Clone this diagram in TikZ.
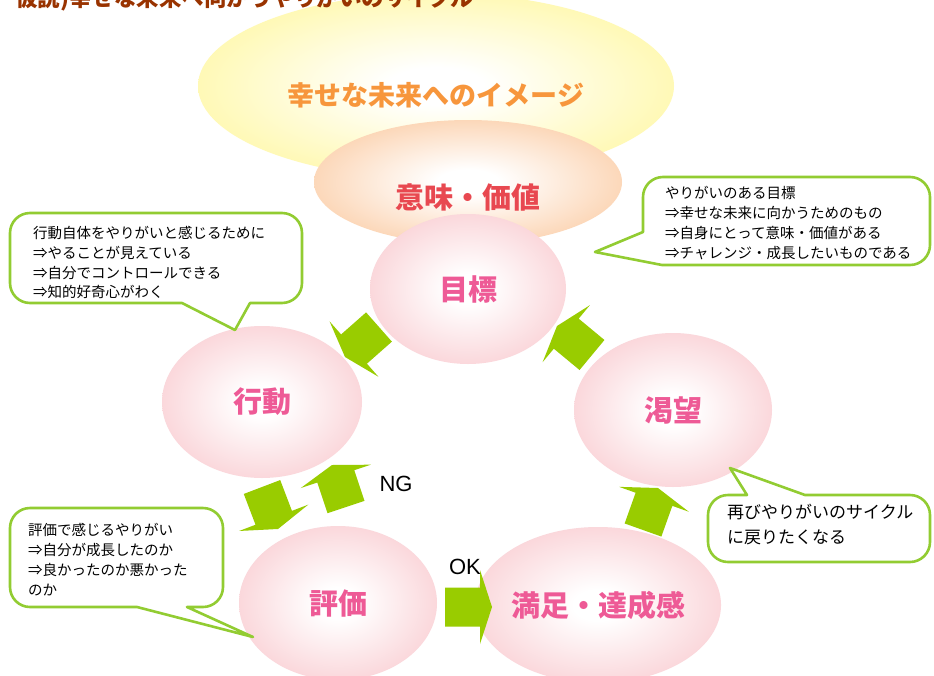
\documentclass[tikz,border=0pt]{standalone}
\usepackage{fontspec}
\setmainfont{Liberation Sans}
\newfontfamily\jp{Noto Sans CJK JP}
\usetikzlibrary{shapes.geometric,calc}
\definecolor{pinkedge}{RGB}{248,194,200}
\definecolor{yellowedge}{RGB}{255,245,135}
\definecolor{orangeedge}{RGB}{250,190,140}
\definecolor{arrowgreen}{RGB}{153,204,0}
\definecolor{calloutgreen}{RGB}{146,204,50}
\definecolor{pinktext}{RGB}{238,90,150}
\definecolor{redtext}{RGB}{232,72,80}
\definecolor{orangetext}{RGB}{247,150,60}
\definecolor{titlebrown}{RGB}{153,51,0}
\pgfdeclareradialshading{pinkball}{\pgfpoint{0bp}{0bp}}{color(0bp)=(white); color(5bp)=(white); color(36bp)=(pinkedge); color(50bp)=(pinkedge)}
\pgfdeclareradialshading{yellowball}{\pgfpoint{0bp}{0bp}}{color(0bp)=(white); color(5bp)=(white); color(38bp)=(yellowedge); color(50bp)=(yellowedge)}
\pgfdeclareradialshading{orangeball}{\pgfpoint{0bp}{0bp}}{color(0bp)=(white); color(5bp)=(white); color(38bp)=(orangeedge); color(50bp)=(orangeedge)}
\newcommand\blockarr[3]{% name, tail, tip
  \coordinate (#1h) at ($(#3)!12pt!(#2)$);
  \fill[arrowgreen] ($(#2)!19.5pt!90:(#3)$) -- ($(#1h)!19.5pt!-90:(#2)$) -- ($(#1h)!37pt!-90:(#2)$) -- (#3)
    -- ($(#1h)!37pt!90:(#2)$) -- ($(#1h)!19.5pt!90:(#2)$) -- ($(#2)!19.5pt!-90:(#3)$) -- cycle;
}
\tikzset{
  ball/.style={ellipse, inner sep=0pt, shade, shading=#1},
  bigtxt/.style={font=\jp\bfseries\fontsize{29}{34}\selectfont, text=pinktext},
  cotxt/.style={font=\jp\fontsize{14.5}{18}\selectfont, anchor=base west, inner sep=0pt},
  cotxtb/.style={font=\jp\fontsize{17}{20}\selectfont, anchor=base west, inner sep=0pt},
  callout/.style={draw=calloutgreen, line width=2.6pt, fill=white, line join=round},
  engtxt/.style={font=\fontsize{22}{26}\selectfont, text=black},
}
\begin{document}
\begin{tikzpicture}[x=1pt,y=-1pt]
\useasboundingbox (0,0) rectangle (934,675);
\clip (0,0) rectangle (934,675);
\fill[white] (0,0) rectangle (934,675);
% background ellipses
\node[ball=yellowball, minimum width=476pt, minimum height=186pt] (future) at (436,86) {};
\node[font=\jp\bfseries\fontsize{27}{32}\selectfont, text=orangetext] (futuret) at (436,95) {幸せな未来へのイメージ};
\node[ball=orangeball, minimum width=308pt, minimum height=124pt] (meaning) at (468,182) {};
\node[font=\jp\bfseries\fontsize{29}{34}\selectfont, text=redtext] (meaningt) at (468,197) {意味・価値};
% title (cut off at the top, drawn above the ellipse)
\node[font=\jp\bfseries\fontsize{22.5}{26}\selectfont, text=titlebrown, anchor=base west, inner sep=0pt] (title) at (15,6) {仮説)幸せな未来へ向かうやりがいのサイクル};
% cycle ellipses
\node[ball=pinkball, bigtxt, minimum width=196pt, minimum height=150pt] (goal) at (468,289) {目標};
\node[ball=pinkball, bigtxt, minimum width=200pt, minimum height=152pt] (act) at (262,402) {行動};
\node[ball=pinkball, bigtxt, minimum width=198pt, minimum height=154pt] (desire) at (673,410) {渇望};
\node[ball=pinkball, bigtxt, minimum width=198pt, minimum height=154pt] (eval) at (338,603) {評価};
\node[ball=pinkball, bigtxt, minimum width=200pt, minimum height=156pt] (sat) at (598,605) {満足・達成感};
% block arrows
\coordinate (a1t) at (379,327); \coordinate (a1p) at (345,357);
\coordinate (a2t) at (592,355); \coordinate (a2p) at (557,326);
\coordinate (a3t) at (643,530); \coordinate (a3p) at (658,488);
\coordinate (a4t) at (445,607); \coordinate (a4p) at (492,607);
\coordinate (a5t) at (262,487); \coordinate (a5p) at (278,529);
\coordinate (a6t) at (346,507); \coordinate (a6p) at (332,465);
\blockarr{a1}{a1t}{a1p}
\blockarr{a2}{a2t}{a2p}
\blockarr{a3}{a3t}{a3p}
\blockarr{a4}{a4t}{a4p}
\blockarr{a5}{a5t}{a5p}
\blockarr{a6}{a6t}{a6p}
\node[engtxt] (ng) at (396,484) {NG};
\node[engtxt] (ok) at (465,567) {OK};
% callout 1 (action)
\draw[callout] (150,213) [rounded corners=20pt] -- (302,213) -- (302,303) [sharp corners] -- (250,303) -- (235,330) -- (182,303) [rounded corners=20pt] -- (10,303) -- (10,213) -- cycle;
\node[cotxt] (c1a) at (33,238.5) {行動自体をやりがいと感じるために};
\node[cotxt] (c1b) at (33,258.5) {⇒やることが見えている};
\node[cotxt] (c1c) at (33,278.5) {⇒自分でコントロールできる};
\node[cotxt] (c1d) at (33,297.5) {⇒知的好奇心がわく};
% callout 2 (goal)
\draw[callout] (780,177) [rounded corners=20pt] -- (930,177) -- (930,265) [sharp corners] -- (662,265) -- (595,252) -- (643,232) [rounded corners=20pt] -- (643,177) -- cycle;
\node[cotxt] (c2a) at (665,198.5) {やりがいのある目標};
\node[cotxt] (c2b) at (665,218.5) {⇒幸せな未来に向かうためのもの};
\node[cotxt] (c2c) at (665,238.5) {⇒自身にとって意味・価値がある};
\node[cotxt] (c2d) at (665,258.5) {⇒チャレンジ・成長したいものである};
% callout 3 (evaluation)
\draw[callout] (120,508) [rounded corners=20pt] -- (223,508) -- (223,607) [sharp corners] -- (187,607) -- (253,637) -- (137,607) [rounded corners=20pt] -- (10,607) -- (10,508) -- cycle;
\node[cotxt] (c3a) at (28,535.5) {評価で感じるやりがい};
\node[cotxt] (c3b) at (28,555.5) {⇒自分が成長したのか};
\node[cotxt] (c3c) at (28,575.5) {⇒良かったのか悪かった};
\node[cotxt] (c3d) at (28,595.5) {のか};
% callout 4 (desire)
\draw[callout] (820,562) [rounded corners=20pt] -- (708,562) -- (708,495) [sharp corners] -- (747,495) -- (730,468) -- (805,495) [rounded corners=20pt] -- (930,495) -- (930,562) -- cycle;
\node[cotxtb] (c4a) at (727,518.5) {再びやりがいのサイクル};
\node[cotxtb] (c4b) at (727,543.5) {に戻りたくなる};
\end{tikzpicture}
\end{document}
